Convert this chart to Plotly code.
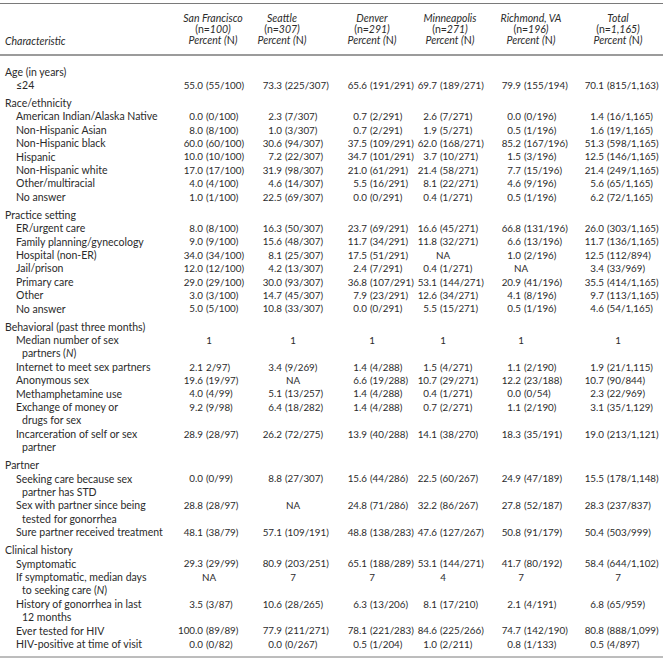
import plotly.graph_objects as go

# ---------------- data ----------------
columns = ["San Francisco", "Seattle", "Denver", "Minneapolis", "Richmond, VA", "Total"]
column_n = ["100", "307", "291", "271", "196", "1,165"]

sections = ["Age (in years)", "Race/ethnicity", "Practice setting",
            "Behavioral (past three months)", "Partner", "Clinical history"]

items = [
    [["≤24"]],
    [["American Indian/Alaska Native"], ["Non-Hispanic Asian"], ["Non-Hispanic black"],
     ["Hispanic"], ["Non-Hispanic white"], ["Other/multiracial"], ["No answer"]],
    [["ER/urgent care"], ["Family planning/gynecology"], ["Hospital (non-ER)"],
     ["Jail/prison"], ["Primary care"], ["Other"], ["No answer"]],
    [["Median number of sex", "partners (<i>N</i>)"], ["Internet to meet sex partners"],
     ["Anonymous sex"], ["Methamphetamine use"], ["Exchange of money or", "drugs for sex"],
     ["Incarceration of self or sex", "partner"]],
    [["Seeking care because sex", "partner has STD"],
     ["Sex with partner since being", "tested for gonorrhea"],
     ["Sure partner received treatment"]],
    [["Symptomatic"], ["If symptomatic, median days", "to seeking care (<i>N</i>)"],
     ["History of gonorrhea in last", "12 months"], ["Ever tested for HIV"],
     ["HIV-positive at time of visit"]],
]

san_francisco = [
    "55.0 (55/100)",
    "0.0 (0/100)", "8.0 (8/100)", "60.0 (60/100)", "10.0 (10/100)", "17.0 (17/100)", "4.0 (4/100)", "1.0 (1/100)",
    "8.0 (8/100)", "9.0 (9/100)", "34.0 (34/100)", "12.0 (12/100)", "29.0 (29/100)", "3.0 (3/100)", "5.0 (5/100)",
    "1", "2.1 2/97)", "19.6 (19/97)", "4.0 (4/99)", "9.2 (9/98)", "28.9 (28/97)",
    "0.0 (0/99)", "28.8 (28/97)", "48.1 (38/79)",
    "29.3 (29/99)", "NA", "3.5 (3/87)", "100.0 (89/89)", "0.0 (0/82)",
]
seattle = [
    "73.3 (225/307)",
    "2.3 (7/307)", "1.0 (3/307)", "30.6 (94/307)", "7.2 (22/307)", "31.9 (98/307)", "4.6 (14/307)", "22.5 (69/307)",
    "16.3 (50/307)", "15.6 (48/307)", "8.1 (25/307)", "4.2 (13/307)", "30.0 (93/307)", "14.7 (45/307)", "10.8 (33/307)",
    "1", "3.4 (9/269)", "NA", "5.1 (13/257)", "6.4 (18/282)", "26.2 (72/275)",
    "8.8 (27/307)", "NA", "57.1 (109/191)",
    "80.9 (203/251)", "7", "10.6 (28/265)", "77.9 (211/271)", "0.0 (0/267)",
]
denver = [
    "65.6 (191/291)",
    "0.7 (2/291)", "0.7 (2/291)", "37.5 (109/291)", "34.7 (101/291)", "21.0 (61/291)", "5.5 (16/291)", "0.0 (0/291)",
    "23.7 (69/291)", "11.7 (34/291)", "17.5 (51/291)", "2.4 (7/291)", "36.8 (107/291)", "7.9 (23/291)", "0.0 (0/291)",
    "1", "1.4 (4/288)", "6.6 (19/288)", "1.4 (4/288)", "1.4 (4/288)", "13.9 (40/288)",
    "15.6 (44/286)", "24.8 (71/286)", "48.8 (138/283)",
    "65.1 (188/289)", "7", "6.3 (13/206)", "78.1 (221/283)", "0.5 (1/204)",
]
minneapolis = [
    "69.7 (189/271)",
    "2.6 (7/271)", "1.9 (5/271)", "62.0 (168/271)", "3.7 (10/271)", "21.4 (58/271)", "8.1 (22/271)", "0.4 (1/271)",
    "16.6 (45/271)", "11.8 (32/271)", "NA", "0.4 (1/271)", "53.1 (144/271)", "12.6 (34/271)", "5.5 (15/271)",
    "1", "1.5 (4/271)", "10.7 (29/271)", "0.4 (1/271)", "0.7 (2/271)", "14.1 (38/270)",
    "22.5 (60/267)", "32.2 (86/267)", "47.6 (127/267)",
    "53.1 (144/271)", "4", "8.1 (17/210)", "84.6 (225/266)", "1.0 (2/211)",
]
richmond = [
    "79.9 (155/194)",
    "0.0 (0/196)", "0.5 (1/196)", "85.2 (167/196)", "1.5 (3/196)", "7.7 (15/196)", "4.6 (9/196)", "0.5 (1/196)",
    "66.8 (131/196)", "6.6 (13/196)", "1.0 (2/196)", "NA", "20.9 (41/196)", "4.1 (8/196)", "0.5 (1/196)",
    "1", "1.1 (2/190)", "12.2 (23/188)", "0.0 (0/54)", "1.1 (2/190)", "18.3 (35/191)",
    "24.9 (47/189)", "27.8 (52/187)", "50.8 (91/179)",
    "41.7 (80/192)", "7", "2.1 (4/191)", "74.7 (142/190)", "0.8 (1/133)",
]
total = [
    "70.1 (815/1,163)",
    "1.4 (16/1,165)", "1.6 (19/1,165)", "51.3 (598/1,165)", "12.5 (146/1,165)", "21.4 (249/1,165)", "5.6 (65/1,165)", "6.2 (72/1,165)",
    "26.0 (303/1,165)", "11.7 (136/1,165)", "12.5 (112/894)", "3.4 (33/969)", "35.5 (414/1,165)", "9.7 (113/1,165)", "4.6 (54/1,165)",
    "1", "1.9 (21/1,115)", "10.7 (90/844)", "2.3 (22/969)", "3.1 (35/1,129)", "19.0 (213/1,121)",
    "15.5 (178/1,148)", "28.3 (237/837)", "50.4 (503/999)",
    "58.4 (644/1,102)", "7", "6.8 (65/959)", "80.8 (888/1,099)", "0.5 (4/897)",
]
column_values = [san_francisco, seattle, denver, minneapolis, richmond, total]

# ---------------- layout constants ----------------
W, H = 670, 662
FONT = "Lato, 'Open Sans', sans-serif"
FS_LABEL = 10.5
FS_NUM = 9.8
COLOR = "#2b2b2b"
header_cx = [213, 282, 372, 450, 531, 618]
dec_x = [203, 282, 367, 437, 521, 604]
single_cx = [209, 293, 372, 443, 521, 618]
LINE_PITCH = 13.4
SECTION_GAP = 4.6
Y0 = 73

# compute row positions
label_x, label_y, label_t = [], [], []
item_y = []
y = Y0
for si, sec in enumerate(sections):
    if si > 0:
        y += SECTION_GAP
    label_x.append(5); label_y.append(y); label_t.append(sec)
    y += LINE_PITCH
    for lines in items[si]:
        item_y.append(y)
        for li, ln in enumerate(lines):
            label_x.append(16 if li == 0 else 22)
            label_y.append(y); label_t.append(ln)
            y += LINE_PITCH

fig = go.Figure()
txt = dict(family=FONT, size=FS_LABEL, color=COLOR)
num = dict(family=FONT, size=FS_NUM, color=COLOR)

fig.add_trace(go.Scatter(x=label_x, y=label_y, text=label_t, mode="text",
                         textposition="middle right", textfont=txt,
                         hoverinfo="skip", showlegend=False, cliponaxis=False))

for ci, vals in enumerate(column_values):
    px, py, pt = [], [], []
    qx, qy, qt = [], [], []
    sx, sy, st = [], [], []
    for ri, v in enumerate(vals):
        if " " in v:
            a, b = v.split(" ", 1)
            px.append(dec_x[ci]); py.append(item_y[ri]); pt.append(a)
            qx.append(dec_x[ci] + 3.0); qy.append(item_y[ri]); qt.append(b)
        else:
            sx.append(single_cx[ci]); sy.append(item_y[ri]); st.append(v)
    fig.add_trace(go.Scatter(x=px, y=py, text=pt, mode="text", textposition="middle left",
                             textfont=num, hoverinfo="skip", showlegend=False, cliponaxis=False))
    fig.add_trace(go.Scatter(x=qx, y=qy, text=qt, mode="text", textposition="middle right",
                             textfont=num, hoverinfo="skip", showlegend=False, cliponaxis=False))
    fig.add_trace(go.Scatter(x=sx, y=sy, text=st, mode="text", textposition="middle center",
                             textfont=num, hoverinfo="skip", showlegend=False, cliponaxis=False))

# headers
hx, hy, ht = [], [], []
for ci, name in enumerate(columns):
    hx += [header_cx[ci]] * 3
    hy += [19, 30, 41]
    ht += [f"<i>{name}</i>", f"(n=<i>{column_n[ci]})</i>", "<i>Percent (</i>N<i>)</i>"]
fig.add_trace(go.Scatter(x=hx, y=hy, text=ht, mode="text", textposition="middle center",
                         textfont=txt, hoverinfo="skip", showlegend=False, cliponaxis=False))
fig.add_trace(go.Scatter(x=[5], y=[42], text=["<i>Characteristic</i>"], mode="text",
                         textposition="middle right", textfont=txt,
                         hoverinfo="skip", showlegend=False, cliponaxis=False))

# rules
for yy, wd in [(3.5, 1.2), (55, 1.5), (657, 1)]:
    fig.add_shape(type="line", xref="x", yref="y", x0=0, x1=663, y0=yy, y1=yy,
                  line=dict(color="#7a7a7a", width=wd), layer="above")

fig.update_layout(
    width=W, height=H, margin=dict(l=0, r=0, t=0, b=0),
    paper_bgcolor="white", plot_bgcolor="white",
    xaxis=dict(range=[0, W], visible=False, fixedrange=True),
    yaxis=dict(range=[H, 0], visible=False, fixedrange=True),
)
fig.write_html("out.html", config={"displayModeBar": False},
               post_script="document.body.style.margin='0';")
